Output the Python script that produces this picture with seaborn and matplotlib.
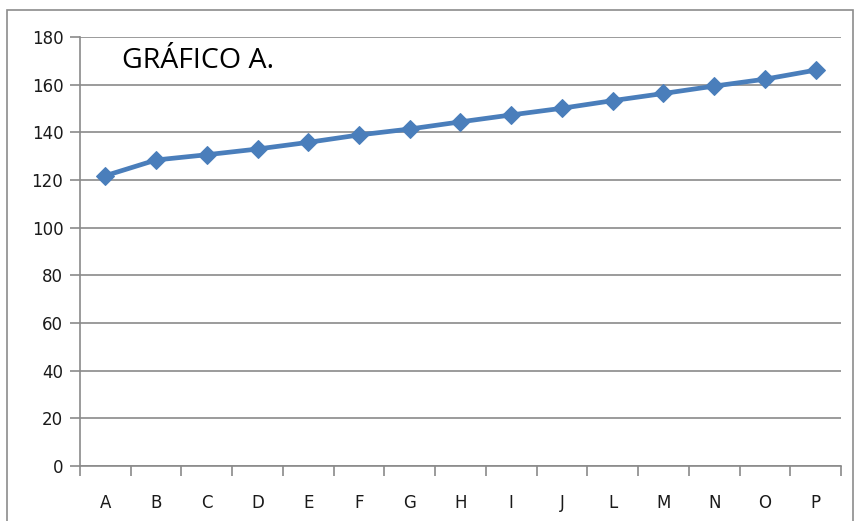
import pandas as pd
import numpy as np
import seaborn as sns
import matplotlib.pyplot as plt
from matplotlib.patches import Rectangle
from matplotlib.ticker import FixedLocator

categories = ['A', 'B', 'C', 'D', 'E', 'F', 'G', 'H', 'I', 'J', 'L', 'M', 'N', 'O', 'P']
values = [121.8, 128.4, 130.6, 133.0, 135.8, 138.9, 141.4, 144.4, 147.3, 150.1, 153.3, 156.3, 159.4, 162.3, 166.1]
y_ticks = [0, 20, 40, 60, 80, 100, 120, 140, 160, 180]
title = 'GRÁFICO A.'

df = pd.DataFrame({'cat': categories, 'val': values})
df['pos'] = np.arange(len(categories))

sns.set_style('white')
plt.rcParams['font.family'] = ['DejaVu Sans']

fig = plt.figure(figsize=(8.62, 5.21), dpi=100)
ax = fig.add_axes([80 / 862, 55 / 521, 761 / 862, 429 / 521])

# outer frame like the excel chart area
fig.patches.append(Rectangle((7 / 862, -0.02), 846 / 862, (521 - 10) / 521 + 0.02,
                             transform=fig.transFigure, fill=False,
                             edgecolor='#8c8c8c', linewidth=1.2))

sns.lineplot(data=df, x='pos', y='val', ax=ax, color='#4a7ebb', linewidth=3.4,
             marker='D', markersize=9, markeredgecolor='#4a7ebb', sort=False)

ax.set_xlim(-0.5, len(categories) - 0.5)
ax.set_ylim(0, 180)
ax.set_yticks(y_ticks)
ax.yaxis.grid(True, color='#8a8a8a', linewidth=1.2)
ax.set_axisbelow(True)

ax.set_xticks(df['pos'])
ax.set_xticklabels(categories)
ax.xaxis.set_minor_locator(FixedLocator(np.arange(len(categories) + 1) - 0.5))
ax.tick_params(axis='x', which='major', length=0, pad=20, labelsize=12, colors='#1a1a1a')
ax.tick_params(axis='x', which='minor', length=7, width=1.2, color='#8a8a8a', direction='out', bottom=True)
ax.tick_params(axis='y', length=7, width=1.2, color='#8a8a8a', direction='out', left=True,
               labelsize=12, labelcolor='#1a1a1a', pad=5)

for s in ['top', 'right']:
    ax.spines[s].set_visible(False)
for s in ['left', 'bottom']:
    ax.spines[s].set_color('#8a8a8a')
    ax.spines[s].set_linewidth(1.2)

ax.set_xlabel('')
ax.set_ylabel('')
ax.text(0.055, 0.945, title, transform=ax.transAxes, fontsize=20.5, va='center', ha='left',
        color='black', family=['Open Sans', 'DejaVu Sans'])

fig.savefig('out.png', dpi=100)
